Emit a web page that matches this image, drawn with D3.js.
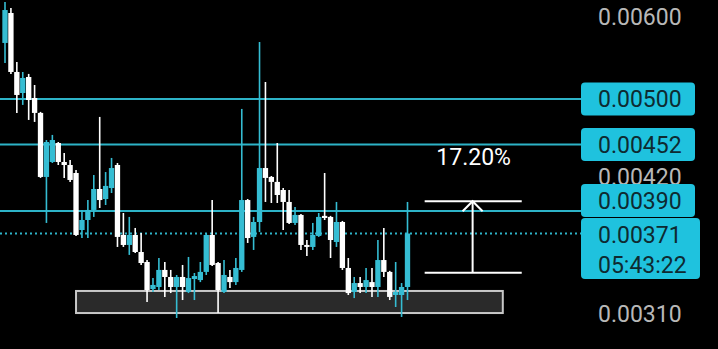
<!DOCTYPE html>
<html>
<head>
<meta charset="utf-8">
<script src="https://cdn.jsdelivr.net/npm/d3@7"></script>
<style>
  body { margin: 0; background: #000; }
  svg { display: block; font-family: Roboto, sans-serif; }
</style>
</head>
<body>
<script>
// candle data (oldest -> newest)
var open = [0.005662, 0.006051, 0.005309, 0.005067, 0.005250, 0.005011, 0.004848, 0.004206, 0.004348, 0.004535,
  0.004348, 0.004319, 0.004243, 0.003739, 0.003823, 0.003909, 0.004095, 0.004005, 0.004104, 0.004319,
  0.003698, 0.003617, 0.003698, 0.003561, 0.003483, 0.003280, 0.003295, 0.003422, 0.003369, 0.003295,
  0.003369, 0.003259, 0.003354, 0.003346, 0.003407, 0.003698, 0.003475, 0.003259, 0.003369, 0.003331,
  0.003422, 0.003996, 0.003682, 0.003806, 0.004290, 0.004206, 0.004160, 0.004086, 0.003979, 0.003798,
  0.003866, 0.003617, 0.003601, 0.003690, 0.003858, 0.003849, 0.003641, 0.003806, 0.003437, 0.003259,
  0.003324, 0.003295, 0.003331, 0.003295, 0.003498, 0.003407, 0.003237, 0.003237, 0.003295];
var high = [0.006201, 0.006118, 0.005428, 0.005309, 0.005286, 0.005158, 0.004859, 0.004565, 0.004617, 0.004545,
  0.004436, 0.004367, 0.004271, 0.003909, 0.003996, 0.004224, 0.004805, 0.004252, 0.004387, 0.004338,
  0.003883, 0.003849, 0.003756, 0.003714, 0.003498, 0.003361, 0.003514, 0.003483, 0.003422, 0.003384,
  0.003460, 0.003522, 0.003399, 0.003483, 0.003714, 0.003996, 0.003483, 0.003498, 0.003422, 0.003514,
  0.004891, 0.004005, 0.003849, 0.005674, 0.005192, 0.004215, 0.004535, 0.004104, 0.004086, 0.003935,
  0.003875, 0.003657, 0.003798, 0.003883, 0.004243, 0.003858, 0.003979, 0.003815, 0.003514, 0.003369,
  0.003369, 0.003437, 0.003437, 0.003657, 0.003756, 0.003415, 0.003483, 0.003324, 0.003979];
var low = [0.005416, 0.005286, 0.004848, 0.004935, 0.004773, 0.004752, 0.004197, 0.003798, 0.004338, 0.004319,
  0.004197, 0.004160, 0.003690, 0.003673, 0.003673, 0.003849, 0.003926, 0.003952, 0.004059, 0.003601,
  0.003601, 0.003538, 0.003553, 0.003460, 0.003187, 0.003259, 0.003273, 0.003223, 0.003251, 0.003076,
  0.003201, 0.003251, 0.003201, 0.003331, 0.003384, 0.003452, 0.003110, 0.003251, 0.003288, 0.003310,
  0.003407, 0.003633, 0.003577, 0.003722, 0.003979, 0.003970, 0.003970, 0.003739, 0.003790, 0.003781,
  0.003577, 0.003530, 0.003577, 0.003682, 0.003823, 0.003514, 0.003601, 0.003422, 0.003237, 0.003215,
  0.003251, 0.003251, 0.003223, 0.003223, 0.003369, 0.003201, 0.003152, 0.003083, 0.003201];
var close = [0.006091, 0.005309, 0.005045, 0.005239, 0.004989, 0.004848, 0.004206, 0.004545, 0.004565, 0.004348,
  0.004319, 0.004178, 0.003698, 0.003823, 0.003909, 0.004095, 0.003996, 0.004123, 0.004290, 0.003682,
  0.003617, 0.003698, 0.003561, 0.003475, 0.003273, 0.003310, 0.003422, 0.003369, 0.003295, 0.003369,
  0.003295, 0.003361, 0.003376, 0.003407, 0.003698, 0.003460, 0.003273, 0.003384, 0.003331, 0.003437,
  0.003996, 0.003673, 0.003806, 0.004290, 0.004197, 0.004160, 0.004041, 0.003979, 0.003798, 0.003866,
  0.003617, 0.003601, 0.003698, 0.003849, 0.003840, 0.003657, 0.003806, 0.003437, 0.003251, 0.003324,
  0.003295, 0.003346, 0.003295, 0.003498, 0.003407, 0.003223, 0.003259, 0.003295, 0.003710];

// horizontal price levels, axis ticks, last price
var levels = [0.00500, 0.00452, 0.00390];
var axisTicks = [0.00600, 0.00420, 0.00310];
var lastPrice = 0.00371;
var lastTime = "05:43:22";

// drawn zone and measure tool (in candle index / price units)
var zoneIdx = [12, 84.1];
var zonePrice = [0.003266, 0.003110];
var measureIdx = [70.9, 87.3, 79];
var measurePrice = [0.003985, 0.003400];
var measureText = "17.20%";

var width = 718, height = 349;
var upCol = "#35bdd3", downCol = "#ffffff", lineCol = "#2db3c7", boxCol = "#1fc2de", boxText = "#0e2a31";

var svg = d3.select("body").append("svg")
  .attr("width", width)
  .attr("height", height);

svg.append("rect").attr("width", width).attr("height", height).attr("fill", "#000");

var x = d3.scaleLinear().domain([0, open.length - 1]).range([5, 407.5]);
var y = d3.scaleLog().domain([0.005, 0.0039]).range([99, 211]);
var step = x(1) - x(0);
var bodyW = step * 0.9;

var candles = d3.range(open.length).map(function(i) {
  return {i: i, o: open[i], h: high[i], l: low[i], c: close[i]};
});

// price axis labels
var axis = d3.axisRight(y)
  .tickValues(axisTicks)
  .tickFormat(d3.format(".5f"))
  .tickSize(0)
  .tickPadding(0);
var ag = svg.append("g").attr("transform", "translate(598,0)").call(axis);
ag.select(".domain").remove();
ag.selectAll("text").attr("fill", "#b8b8b8").style("font-size", "23px").style("font-family", "Roboto, sans-serif");

// level lines
svg.selectAll(".level").data(levels).enter().append("line")
  .attr("x1", 0).attr("x2", 581)
  .attr("y1", function(d) { return y(d); })
  .attr("y2", function(d) { return y(d); })
  .attr("stroke", lineCol).attr("stroke-width", 2);

svg.append("line")
  .attr("x1", 0).attr("x2", 581)
  .attr("y1", y(lastPrice)).attr("y2", y(lastPrice))
  .attr("stroke", lineCol).attr("stroke-width", 2)
  .attr("stroke-dasharray", "2,3");

// zone rectangle
svg.append("rect")
  .attr("x", x(zoneIdx[0]))
  .attr("y", y(zonePrice[0]))
  .attr("width", x(zoneIdx[1]) - x(zoneIdx[0]))
  .attr("height", y(zonePrice[1]) - y(zonePrice[0]))
  .attr("fill", "#2a2a2a")
  .attr("stroke", "#c8c8c8").attr("stroke-width", 2);

// candles
var cg = svg.append("g");
cg.selectAll(".wick").data(candles).enter().append("line")
  .attr("x1", function(d) { return x(d.i); })
  .attr("x2", function(d) { return x(d.i); })
  .attr("y1", function(d) { return y(d.h); })
  .attr("y2", function(d) { return y(d.l); })
  .attr("stroke", function(d) { return d.c >= d.o ? upCol : downCol; })
  .attr("stroke-width", 1.6);

cg.selectAll(".body").data(candles).enter().append("rect")
  .attr("x", function(d) { return x(d.i) - bodyW / 2; })
  .attr("y", function(d) { return y(Math.max(d.o, d.c)); })
  .attr("width", bodyW)
  .attr("height", function(d) { return Math.max(1.5, y(Math.min(d.o, d.c)) - y(Math.max(d.o, d.c))); })
  .attr("fill", function(d) { return d.c >= d.o ? upCol : downCol; });

// measure tool
var mx1 = x(measureIdx[0]), mx2 = x(measureIdx[1]), mxa = x(measureIdx[2]);
var myTop = y(measurePrice[0]), myBot = y(measurePrice[1]);
var mg = svg.append("g").attr("stroke", "#fff").attr("stroke-width", 2).attr("fill", "none");
mg.append("line").attr("x1", mx1).attr("x2", mx2).attr("y1", myTop).attr("y2", myTop);
mg.append("line").attr("x1", mx1).attr("x2", mx2).attr("y1", myBot).attr("y2", myBot);
mg.append("line").attr("x1", mxa).attr("x2", mxa).attr("y1", myTop).attr("y2", myBot);
mg.append("path").attr("d", d3.line()([[mxa - 10, myTop + 10], [mxa, myTop], [mxa + 10, myTop + 10]]));
svg.append("text")
  .attr("x", mxa + 1).attr("y", myTop - 36)
  .attr("text-anchor", "middle")
  .attr("fill", "#fff")
  .style("font-size", "23px")
  .text(measureText);

// price label boxes
var curTop = y(lastPrice) - 15.5;
var boxH = 33;
var boxes = levels.map(function(v) {
  var top = y(v) - boxH / 2;
  if (top + boxH > curTop - 1) top = curTop - 1 - boxH;
  return {v: v, top: top};
});
var bg = svg.append("g");
bg.selectAll(".box").data(boxes).enter().append("rect")
  .attr("x", 581).attr("y", function(d) { return d.top; })
  .attr("width", 114).attr("height", boxH).attr("rx", 4)
  .attr("fill", boxCol);
bg.selectAll(".boxtxt").data(boxes).enter().append("text")
  .attr("x", 598).attr("y", function(d) { return d.top + boxH / 2; })
  .attr("dy", "0.35em")
  .attr("fill", boxText)
  .style("font-size", "23px")
  .text(function(d) { return d3.format(".5f")(d.v); });

bg.append("rect")
  .attr("x", 581).attr("y", curTop)
  .attr("width", 119).attr("height", 61).attr("rx", 4)
  .attr("fill", boxCol);
bg.append("text")
  .attr("x", 598).attr("y", curTop + 17).attr("dy", "0.35em")
  .attr("fill", boxText).style("font-size", "23px")
  .text(d3.format(".5f")(lastPrice));
bg.append("text")
  .attr("x", 598).attr("y", curTop + 47).attr("dy", "0.35em")
  .attr("fill", boxText).style("font-size", "23px")
  .text(lastTime);
</script>
</body>
</html>
